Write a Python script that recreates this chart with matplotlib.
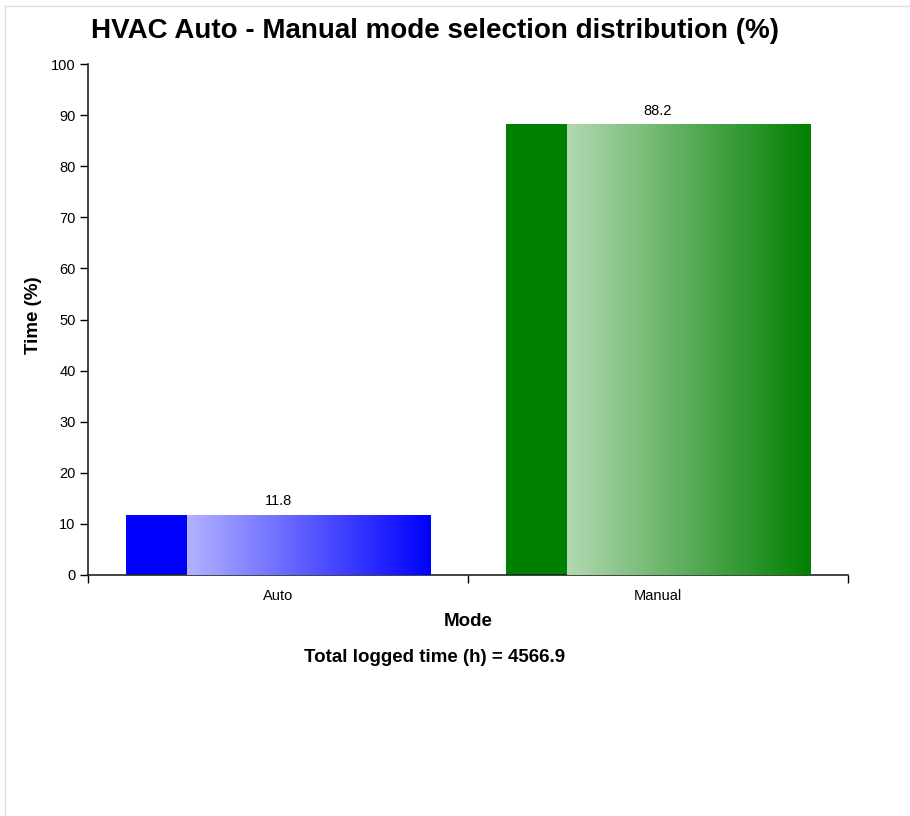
import numpy as np
import matplotlib.pyplot as plt
from matplotlib.colors import LinearSegmentedColormap, to_rgb
from matplotlib.lines import Line2D

plt.rcParams['font.family'] = ['Liberation Sans', 'DejaVu Sans']

modes = ['Auto', 'Manual']
shares = [11.8, 88.2]
colors = ['#0000ff', '#008000']
total_hours = 4566.9

fig = plt.figure(figsize=(9.10, 8.16), dpi=100)
ax = fig.add_axes([88 / 910, 241 / 816, 760 / 910, 511 / 816])

bar_w = 0.8
solid_frac = 0.2
x = np.arange(len(modes))

for xi, val, col in zip(x, shares, colors):
    left = xi - bar_w / 2
    bar = ax.bar(xi, val, width=bar_w, color=col, edgecolor='none', zorder=2)[0]
    # gradient part: from light tint to full colour, clipped to the bar
    rgb = np.array(to_rgb(col))
    light = 0.3 * rgb + 0.7 * np.ones(3)
    cmap = LinearSegmentedColormap.from_list('g', [light, rgb])
    grad = np.linspace(0, 1, 256).reshape(1, -1)
    im = ax.imshow(grad, cmap=cmap, aspect='auto', interpolation='bilinear',
                   extent=[left + solid_frac * bar_w, left + bar_w, -1, val + 1],
                   zorder=3)
    im.set_clip_path(bar)
    ax.text(xi, val + 1.3, f'{val}', ha='center', va='bottom', fontsize=10.5)

ax.set_xlim(-0.5, len(modes) - 0.5)
ax.set_ylim(0, 100)
ax.set_yticks(np.arange(0, 101, 10))
ax.set_xticks([-0.5, 0.5, 1.5])
ax.set_xticklabels([])
ax.set_xticks(x, minor=True)
ax.set_xticklabels(modes, minor=True)
ax.tick_params(axis='x', which='minor', length=0, pad=10, labelsize=10.5)
ax.tick_params(axis='x', which='major', length=6, width=1)
ax.tick_params(axis='y', length=6, width=1, labelsize=10.5, pad=3)

for s in ['top', 'right']:
    ax.spines[s].set_visible(False)
for s in ['left', 'bottom']:
    ax.spines[s].set_color('#222222')
    ax.spines[s].set_linewidth(1.2)

fig.text(435 / 910, 1 - 31 / 816, 'HVAC Auto - Manual mode selection distribution (%)',
         ha='center', va='center', fontsize=20, fontweight='bold')
fig.text(34 / 910, 1 - 315 / 816, 'Time (%)', rotation=90, ha='center', va='center',
         fontsize=13.5, fontweight='bold')
fig.text(468 / 910, 1 - 622 / 816, 'Mode', ha='center', va='center',
         fontsize=13.5, fontweight='bold')
fig.text(435 / 910, 1 - 657 / 816, f'Total logged time (h) = {total_hours}',
         ha='center', va='center', fontsize=13.5, fontweight='bold')

# thin frame around the panel
fig.add_artist(Line2D([5 / 910, 1], [1 - 6 / 816] * 2, color='#dddddd', lw=1))
fig.add_artist(Line2D([5 / 910] * 2, [0, 1 - 6 / 816], color='#dddddd', lw=1))

fig.savefig('out.png', dpi=100)
